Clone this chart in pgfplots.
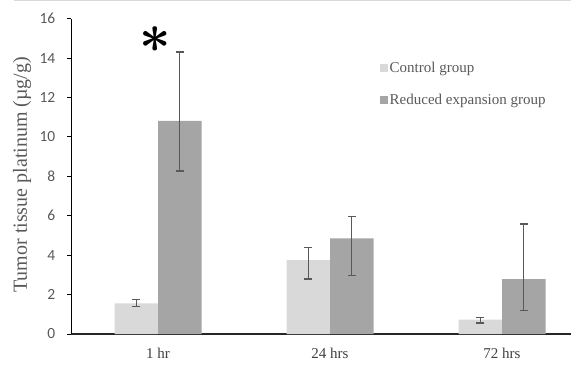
\documentclass[border=0pt]{standalone}
\usepackage{fontspec}
\setmainfont{Liberation Serif}
\newfontfamily\carlito{Carlito}
\usepackage{amsmath}
\usepackage{graphicx}
\usepackage{pgfplots}
\pgfplotsset{compat=1.18}
\usepackage{pgfplotstable}
\definecolor{ctrlc}{HTML}{D9D9D9}
\definecolor{redc}{HTML}{A5A5A5}
\definecolor{errc}{HTML}{595959}
\definecolor{txtc}{HTML}{595959}

\pgfplotstableread{
x y ep em
0 1.55 0.19 0.15
1 3.75 0.64 0.96
2 0.73 0.10 0.17
}\ctrltab
\pgfplotstableread{
x y ep em
0 10.81 3.51 2.54
1 4.85 1.11 1.89
2 2.79 2.79 1.61
}\redtab

\begin{document}
\begin{tikzpicture}
\useasboundingbox (-71pt,-34pt) rectangle (500pt,334pt);
\draw[color=ctrlc, line width=1pt] (-57pt,333.5pt) -- (500pt,333.5pt);
\begin{axis}[
  at={(0pt,0pt)}, anchor=south west,
  scale only axis, width=500pt, height=315.3pt,
  clip mode=individual,
  xmin=-0.506, xmax=2.401, ymin=0, ymax=16,
  ybar=0pt, bar width=43.5pt,
  axis x line*=bottom, axis y line*=left,
  x axis line style={line width=1.5pt, color=black!85},
  y axis line style={line width=0.9pt, color=black},
  xtick={0,1,2}, xticklabels={1 hr,24 hrs,72 hrs},
  x tick style={draw=none},
  ytick={0,2,...,16},
  tick align=outside, major tick length=3.5pt,
  y tick style={line width=0.9pt, black},
  /pgf/number format/assume math mode=true,
  yticklabel style={font=\carlito\fontsize{15.5}{16}\selectfont, text=txtc, anchor=east, inner sep=0pt, xshift=-12pt},
  xticklabel style={font=\fontsize{15}{16}\selectfont, text=black!75, anchor=center, yshift=-16pt},
  ylabel={Tumor tissue platinum (µg/g)},
  ylabel style={font=\fontsize{20}{22}\selectfont, text=txtc, at={(axis description cs:-0.098,0.505)}, anchor=center},
  legend style={at={(axis description cs:0.612,0.873)}, anchor=north west, draw=none, fill=none,
    font=\fontsize{15}{16}\selectfont, text=txtc, row sep=17pt,
    /tikz/every even column/.append style={column sep=0pt},
    nodes={inner sep=1.5pt}},
  legend cell align=left,
  legend image code/.code={\fill[#1,draw=none] (0pt,-4pt) rectangle (8pt,4pt);},
]
\addplot[fill=ctrlc, draw=none,
  error bars/.cd, y dir=both, y explicit,
  error bar style={line width=1.4pt, errc},
  error mark options={rotate=90, mark size=4pt, line width=1.4pt, errc}]
  table[x=x, y=y, y error plus=ep, y error minus=em]{\ctrltab};
\addlegendentry{Control group}
\addplot[fill=redc, draw=none,
  error bars/.cd, y dir=both, y explicit,
  error bar style={line width=1.4pt, errc},
  error mark options={rotate=90, mark size=4pt, line width=1.4pt, errc}]
  table[x=x, y=y, y error plus=ep, y error minus=em]{\redtab};
\addlegendentry{Reduced expansion group}
\node[inner sep=0pt] at (axis cs:-0.017,14.93) {\fontsize{24}{24}\selectfont\scalebox{2.2}{$\boldsymbol{\ast}$}};
\end{axis}
\end{tikzpicture}
\end{document}
